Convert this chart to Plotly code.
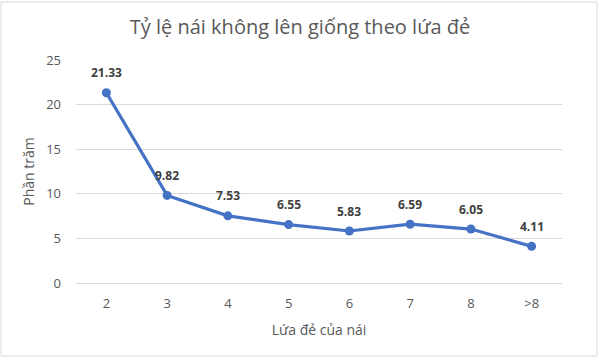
import plotly.graph_objects as go

categories = ["2", "3", "4", "5", "6", "7", "8", ">8"]
values = [21.33, 9.82, 7.53, 6.55, 5.83, 6.59, 6.05, 4.11]
labels = [f"{v:.2f}" for v in values]
y_ticks = [0, 5, 10, 15, 20, 25]

FONT = "Open Sans, Liberation Sans, sans-serif"

fig = go.Figure()
fig.add_trace(go.Scatter(
    x=categories, y=values, mode="lines+markers",
    line=dict(color="#4472C4", width=3.2),
    marker=dict(color="#4472C4", size=9),
    cliponaxis=False,
    hoverinfo="x+y",
))

# On a category axis, annotation x is the category index
annotations = [
    dict(x=i, y=v, xref="x", yref="y", text=f"<b>{t}</b>", showarrow=False,
         yshift=20, font=dict(family=FONT, size=12, color="#404040"))
    for i, (v, t) in enumerate(zip(values, labels))
]

fig.update_layout(
    width=600, height=359,
    margin=dict(l=76, r=38, t=60, b=76, autoexpand=False),
    paper_bgcolor="white", plot_bgcolor="white",
    showlegend=False,
    annotations=annotations,
    title=dict(text="Tỷ lệ nái không lên giống theo lứa đẻ", x=0.5, xanchor="center",
               y=1 - 27/359, yanchor="middle",
               font=dict(family=FONT, size=20, color="#595959")),
    xaxis=dict(type="category", categoryorder="array", categoryarray=categories,
               range=[-0.5, 7.5], showgrid=False, showline=False,
               automargin=False, ticklabelstandoff=11,
               ticks="", tickfont=dict(family=FONT, size=13, color="#595959"),
               title=dict(text="Lứa đẻ của nái", standoff=14,
                          font=dict(family=FONT, size=14, color="#595959"))),
    yaxis=dict(range=[0, 25], tickvals=y_ticks, showgrid=True, gridcolor="#D9D9D9", gridwidth=1,
               automargin=False,
               zeroline=True, zerolinecolor="#D9D9D9", zerolinewidth=1, showline=False, ticks="",
               ticklabelstandoff=14,
               tickfont=dict(family=FONT, size=13, color="#595959"),
               title=dict(text="Phần trăm", standoff=8,
                          font=dict(family=FONT, size=14, color="#595959"))),
    shapes=[dict(type="rect", xref="paper", yref="paper", x0=-75/486, x1=1+35/486,
                 y0=-73/223, y1=1+58/223, line=dict(color="#D9D9D9", width=1))],
)

fig.write_html("out.html", config={"displayModeBar": False},
               post_script="document.body.style.margin='0';document.body.style.overflow='hidden';")
